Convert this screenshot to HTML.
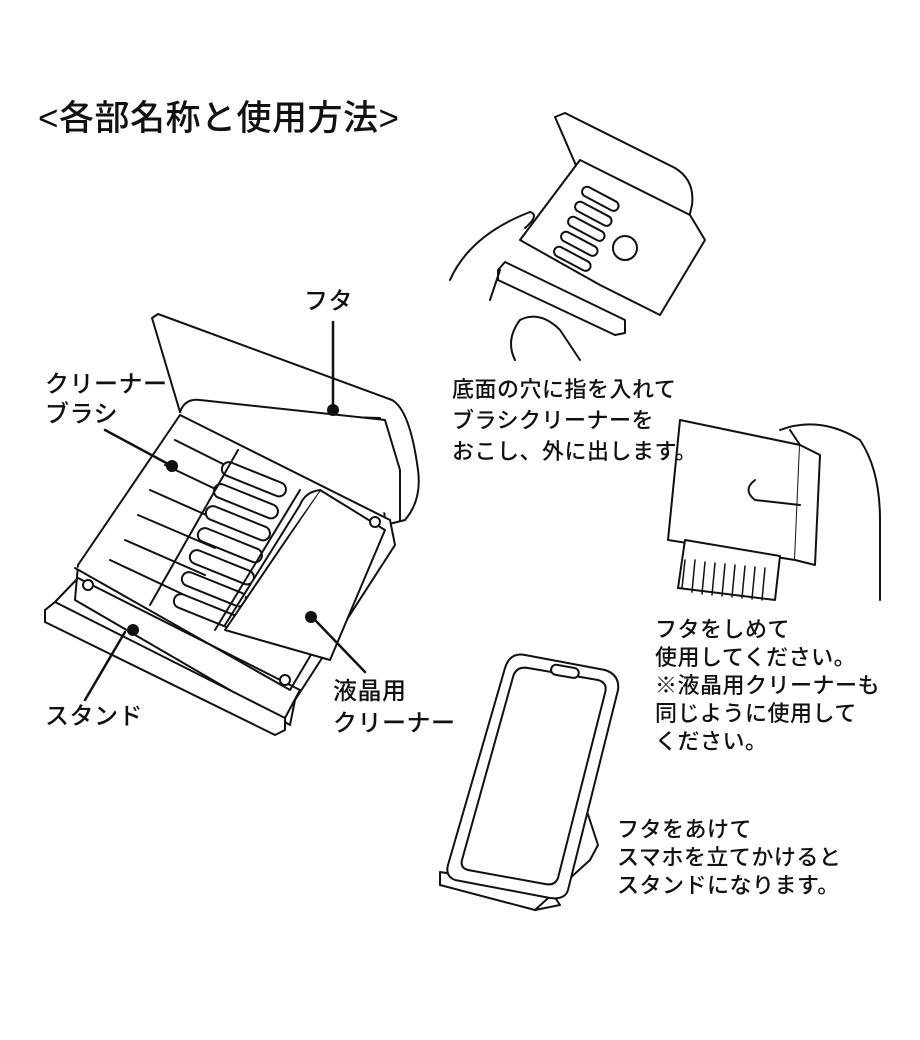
<!DOCTYPE html>
<html><head><meta charset="utf-8"><style>
html,body{margin:0;padding:0;background:#fff}
body{width:920px;height:1040px;position:relative;overflow:hidden;font-family:"Liberation Sans","Noto Sans CJK JP",sans-serif;color:#111}
.t{position:absolute;font-size:22px;line-height:28px;white-space:nowrap;letter-spacing:0.5px;font-weight:500}
svg{position:absolute;left:0;top:0}
</style></head><body>
<svg width="920" height="1040" viewBox="0 0 920 1040" fill="#fff" stroke="#111" stroke-width="2" stroke-linejoin="round" stroke-linecap="round">
<path d="M152 318 L158 314 L392 400 Q410 410 418 470 Q422 500 405 520 L385 525 L380 418 L180 412 Z"/>
<path d="M180 412 Q185 398 200 400 L385 420 L400 470 L400 520"/>
<path d="M180 415 L390 520 L395 545 L295 700 L290 725 L75 600 L78 565 Z"/>
<path d="M75 568 L290 690 L385 530"/>
<g fill="none">
<path d="M175 440 L235 470 M165 465 L228 495 M150 490 L222 522 M138 515 L215 548 M125 540 L205 575 M110 560 L195 600"/>
</g>
<g>
<rect x="225" y="460" width="68" height="14" rx="7" transform="rotate(22 225 460)"/>
<rect x="217" y="482" width="68" height="14" rx="7" transform="rotate(22 217 482)"/>
<rect x="209" y="504" width="68" height="14" rx="7" transform="rotate(22 209 504)"/>
<rect x="201" y="526" width="68" height="14" rx="7" transform="rotate(22 201 526)"/>
<rect x="193" y="548" width="68" height="14" rx="7" transform="rotate(22 193 548)"/>
<rect x="185" y="570" width="68" height="14" rx="7" transform="rotate(22 185 570)"/>
<rect x="177" y="592" width="68" height="14" rx="7" transform="rotate(22 177 592)"/>
</g>
<path d="M238 450 L150 605 M300 490 L215 630" fill="none"/>
<path d="M320 490 L385 530 L330 660 L225 630 Z"/>
<path d="M320 490 Q305 492 300 505 L225 625"/>
<path d="M45 610 L55 602 L285 718 L285 730 L275 735 L45 622 Z"/>
<path d="M55 602 L78 578 L300 690 L285 718" fill="none"/>
<circle cx="88" cy="585" r="5"/><circle cx="285" cy="680" r="5"/><circle cx="375" cy="522" r="5"/>
<g fill="none" stroke-width="2.5">
<path d="M333 322 L333 405"/><path d="M105 430 L170 465"/><path d="M125 632 L85 700"/><path d="M315 620 L365 672"/>
</g>
<g fill="#111" stroke="none">
<circle cx="333" cy="410" r="6"/><circle cx="172" cy="466" r="6"/><circle cx="133" cy="630" r="6"/><circle cx="311" cy="617" r="6"/>
</g>
<path d="M555 117 L565 113 L675 168 Q695 180 692 205 L688 222 L578 170 Z"/>
<path d="M520 240 L580 160 L690 215 L705 240 L660 315 L600 285 Z"/>
<path d="M498 270 L505 262 L625 320 L625 333 L615 335 L498 280 Z"/>
<g>
<rect x="585" y="185" width="40" height="10" rx="5" transform="rotate(28 585 185)"/>
<rect x="578" y="200" width="40" height="10" rx="5" transform="rotate(28 578 200)"/>
<rect x="571" y="215" width="40" height="10" rx="5" transform="rotate(28 571 215)"/>
<rect x="564" y="230" width="40" height="10" rx="5" transform="rotate(28 564 230)"/>
<rect x="557" y="245" width="40" height="10" rx="5" transform="rotate(28 557 245)"/>
</g>
<circle cx="625" cy="248" r="12"/>
<path d="M450 280 Q470 235 530 212 Q540 215 525 228 M490 300 L500 270 M515 360 Q505 340 520 320 Q540 310 560 330 L580 360" fill="none"/>
<path d="M680 420 L800 445 L795 560 L668 540 Z"/>
<path d="M800 445 L820 455 L815 565 L795 560" />
<path d="M685 540 L780 556 L775 600 L678 588 Z" fill="#fff"/>
<g fill="none" stroke-width="1.5"><path d="M685 560 L682 588 M695 560 L692 592 M705 562 L702 594 M715 563 L712 595 M725 564 L722 596 M735 565 L732 597 M745 566 L742 598 M755 567 L752 599 M765 568 L762 600"/></g>
<path d="M780 430 Q820 415 860 440 Q880 470 880 520 L880 600 M755 480 Q742 490 755 500 L800 505 M790 430 L800 445" fill="none"/>
<path d="M440 872 L550 890 L560 905 L535 910 L440 885 Z"/>
<path d="M535 910 L590 860 L598 845 L580 790 L560 850" fill="none"/>
<path d="M525 655 L605 670 Q620 675 618 690 L568 890 Q565 900 550 898 L455 880 Q445 876 448 865 L505 668 Q510 652 525 655 Z"/>
<path d="M528 668 L598 680 Q608 683 605 693 L558 878 Q555 886 545 884 L468 870 Q460 868 462 860 L513 677 Q516 666 528 668 Z"/>
<rect x="552" y="664" width="28" height="10" rx="5" transform="rotate(10 552 664)"/>
</svg>
<div class="t" style="left:38px;top:98px;font-size:35px;line-height:42px">&lt;各部名称と使用方法&gt;</div>
<div class="t" style="left:304px;top:288px;font-size:24px">フタ</div>
<div class="t" style="left:45px;top:370px;font-size:24px;line-height:30px">クリーナー<br>ブラシ</div>
<div class="t" style="left:45px;top:703px;font-size:24px">スタンド</div>
<div class="t" style="left:333px;top:676px;font-size:24px;line-height:32px">液晶用<br>クリーナー</div>
<div class="t" style="left:452px;top:374px;line-height:31px">底面の穴に指を入れて<br>ブラシクリーナーを<br>おこし、外に出します。</div>
<div class="t" style="left:655px;top:616px">フタをしめて<br>使用してください。<br>※液晶用クリーナーも<br>同じように使用して<br>ください。</div>
<div class="t" style="left:617px;top:816px">フタをあけて<br>スマホを立てかけると<br>スタンドになります。</div>
</body></html>
